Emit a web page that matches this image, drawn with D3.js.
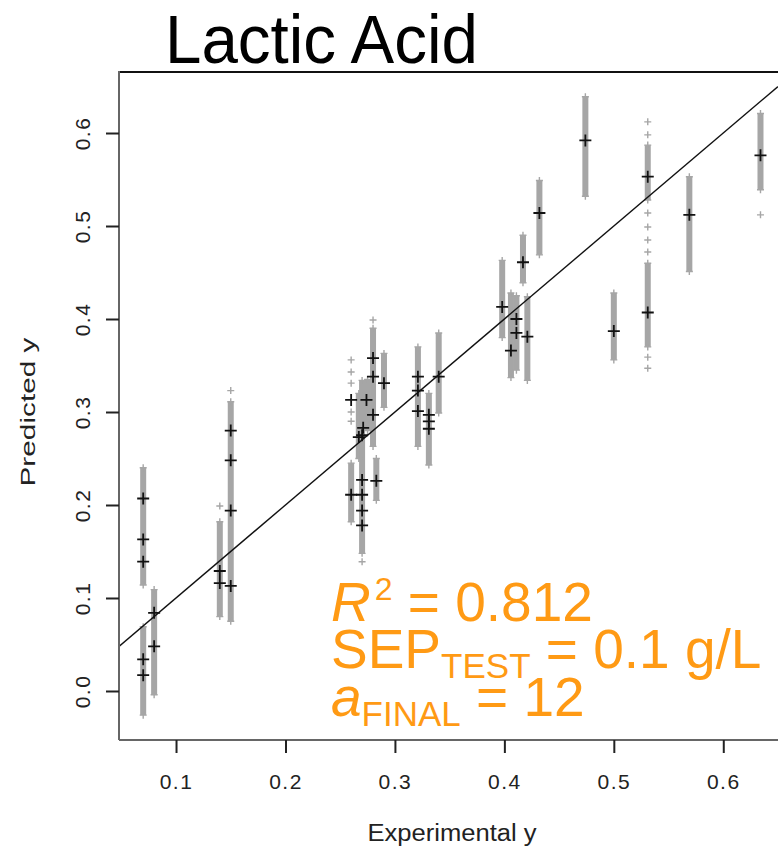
<!DOCTYPE html>
<html>
<head>
<meta charset="utf-8">
<script src="https://cdn.jsdelivr.net/npm/d3@7"></script>
<style>
  html, body { margin: 0; padding: 0; background: #fff; }
  svg { display: block; }
</style>
</head>
<body>
<svg id="chart" width="778" height="846"></svg>
<script>
// ---- data ----
const title = "Lactic Acid";
const xLabel = "Experimental y";
const yLabel = "Predicted y";
const xTicks = [0.1, 0.2, 0.3, 0.4, 0.5, 0.6];
const yTicks = [0.0, 0.1, 0.2, 0.3, 0.4, 0.5, 0.6];
const xDomain = [0.0479, 0.650];
const yDomain = [-0.0527, 0.6656];

// dense ranges of the gray (resampled) predictions: [experimental, low, high]
const grayRanges = [
  [0.070, 0.114, 0.240], [0.070, -0.026, 0.069],
  [0.080, -0.004, 0.109],
  [0.140, 0.080, 0.182],
  [0.150, 0.075, 0.311],
  [0.260, 0.182, 0.245],
  [0.267, 0.250, 0.320],
  [0.270, 0.148, 0.334],
  [0.275, 0.280, 0.335],
  [0.280, 0.263, 0.390],
  [0.283, 0.205, 0.250],
  [0.290, 0.305, 0.363],
  [0.321, 0.263, 0.370],
  [0.331, 0.243, 0.320],
  [0.340, 0.299, 0.385],
  [0.398, 0.380, 0.463],
  [0.406, 0.337, 0.428],
  [0.411, 0.345, 0.425],
  [0.417, 0.439, 0.490],
  [0.421, 0.334, 0.424],
  [0.432, 0.469, 0.549],
  [0.474, 0.532, 0.639],
  [0.500, 0.356, 0.428],
  [0.531, 0.528, 0.587], [0.531, 0.370, 0.460],
  [0.569, 0.451, 0.553],
  [0.634, 0.539, 0.621]
];

// isolated gray predictions: [experimental, predicted]
const grayPoints = [
  [0.140, 0.199], [0.150, 0.323], [0.270, 0.139],
  [0.260, 0.356], [0.260, 0.343], [0.260, 0.331], [0.260, 0.300], [0.260, 0.290],
  [0.280, 0.399],
  [0.531, 0.612], [0.531, 0.598], [0.531, 0.514], [0.531, 0.499], [0.531, 0.485],
  [0.531, 0.472], [0.531, 0.359], [0.531, 0.347],
  [0.634, 0.512]
];

// final-model predictions (black crosses): [experimental, predicted]
const blackPoints = [
  [0.070, 0.207], [0.070, 0.163], [0.070, 0.139], [0.070, 0.034], [0.070, 0.017],
  [0.080, 0.084], [0.080, 0.048],
  [0.140, 0.129], [0.140, 0.116],
  [0.150, 0.280], [0.150, 0.248], [0.150, 0.194], [0.150, 0.113],
  [0.260, 0.313], [0.260, 0.211],
  [0.267, 0.273], [0.271, 0.283], [0.270, 0.275],
  [0.270, 0.227], [0.270, 0.211], [0.270, 0.194], [0.270, 0.178],
  [0.274, 0.313],
  [0.280, 0.358], [0.280, 0.338], [0.280, 0.297],
  [0.283, 0.226],
  [0.290, 0.331],
  [0.321, 0.338], [0.321, 0.323], [0.321, 0.301],
  [0.331, 0.297], [0.331, 0.290], [0.331, 0.282],
  [0.340, 0.338],
  [0.398, 0.413],
  [0.406, 0.366],
  [0.411, 0.400], [0.411, 0.385],
  [0.417, 0.461],
  [0.421, 0.381],
  [0.432, 0.514],
  [0.474, 0.592],
  [0.500, 0.387],
  [0.531, 0.553], [0.531, 0.407],
  [0.569, 0.512],
  [0.634, 0.576]
];

// reference line y = slope * x + intercept
const lineSlope = 1.0;
const lineIntercept = 0.0;

const statLines = [
  { main: "R", mainItalic: true, sup: "2", sub: null, rest: " = 0.812" },
  { main: "SEP", mainItalic: false, sup: null, sub: "TEST", rest: " = 0.1 g/L" },
  { main: "a", mainItalic: true, sup: null, sub: "FINAL", rest: " = 12" }
];

// ---- drawing ----
const svg = d3.select("#chart");
const plot = { left: 119, right: 778, top: 72, bottom: 740 };
const x = d3.scaleLinear().domain(xDomain).range([plot.left, plot.right]);
const y = d3.scaleLinear().domain(yDomain).range([plot.bottom, plot.top]);
const font = "'Liberation Sans', Arial, Helvetica, sans-serif";

svg.append("defs").append("clipPath").attr("id", "clip")
  .append("rect").attr("x", plot.left).attr("y", plot.top)
  .attr("width", plot.right - plot.left).attr("height", plot.bottom - plot.top);

const g = svg.append("g").attr("clip-path", "url(#clip)");
const gray = "#a6a6a6";

// gray dense ranges
g.selectAll("rect.rng").data(grayRanges).join("rect")
  .attr("class", "rng")
  .attr("x", d => x(d[0]) - 3)
  .attr("width", 6)
  .attr("y", d => y(d[2]))
  .attr("height", d => y(d[1]) - y(d[2]))
  .attr("fill", gray);

// gray crosses at range ends and isolated ones
const grayCrossData = grayRanges.flatMap(d => [[d[0], d[1]], [d[0], d[2]]]).concat(grayPoints);
const cross = (sel, data, half, color, width) => {
  sel.selectAll(null).data(data).join("path")
    .attr("d", d => {
      const cx = x(d[0]), cy = y(d[1]);
      return `M${cx - half},${cy}H${cx + half}M${cx},${cy - half}V${cy + half}`;
    })
    .attr("stroke", color).attr("stroke-width", width).attr("fill", "none");
};
cross(g.append("g"), grayCrossData, 3.5, gray, 1.4);

// reference line
const lx0 = xDomain[0], lx1 = xDomain[1];
g.append("line")
  .attr("x1", x(lx0)).attr("y1", y(lineSlope * lx0 + lineIntercept))
  .attr("x2", x(lx1)).attr("y2", y(lineSlope * lx1 + lineIntercept))
  .attr("stroke", "#111").attr("stroke-width", 1.4);

// black crosses
cross(g.append("g"), blackPoints, 6, "#111", 1.8);

// frame: top border, left & bottom axis lines
svg.append("line").attr("x1", plot.left).attr("x2", plot.right)
  .attr("y1", plot.top).attr("y2", plot.top).attr("stroke", "#111").attr("stroke-width", 2);
svg.append("line").attr("x1", plot.left).attr("x2", plot.left)
  .attr("y1", plot.top - 1).attr("y2", plot.bottom).attr("stroke", "#666").attr("stroke-width", 2);
svg.append("line").attr("x1", plot.left).attr("x2", plot.right)
  .attr("y1", plot.bottom).attr("y2", plot.bottom).attr("stroke", "#666").attr("stroke-width", 2);

// axes via d3
const xAxis = d3.axisBottom(x).tickValues(xTicks).tickSize(13).tickPadding(21)
  .tickFormat(d3.format(".1f"));
const yAxis = d3.axisLeft(y).tickValues(yTicks).tickSize(13).tickPadding(18)
  .tickFormat(d3.format(".1f"));

const gx = svg.append("g").attr("transform", `translate(0,${plot.bottom})`).call(xAxis);
const gy = svg.append("g").attr("transform", `translate(${plot.left},0)`).call(yAxis);
[gx, gy].forEach(a => {
  a.select(".domain").remove();
  a.selectAll(".tick line").attr("stroke", "#222").attr("stroke-width", 2);
  a.selectAll(".tick text").attr("fill", "#222").attr("font-size", 21)
    .attr("letter-spacing", 1.5)
    .attr("font-family", font);
});
gy.selectAll(".tick text")
  .attr("transform", "rotate(-90)")
  .attr("x", 0).attr("y", -29)
  .attr("text-anchor", "middle").attr("dy", 0);

// title
svg.append("text").attr("x", 165).attr("y", 63)
  .attr("font-family", font).attr("font-size", 68).attr("fill", "#000")
  .attr("textLength", 313).attr("lengthAdjust", "spacingAndGlyphs")
  .text(title);

// axis titles
svg.append("text").attr("x", 452).attr("y", 841)
  .attr("text-anchor", "middle")
  .attr("font-family", font).attr("font-size", 23).attr("fill", "#222")
  .attr("textLength", 169).attr("lengthAdjust", "spacingAndGlyphs")
  .text(xLabel);
svg.append("text")
  .attr("transform", "translate(35,412) rotate(-90)")
  .attr("text-anchor", "middle")
  .attr("font-family", font).attr("font-size", 21).attr("fill", "#222")
  .attr("textLength", 149).attr("lengthAdjust", "spacingAndGlyphs")
  .text(yLabel);

// statistics annotation
const orange = "#ff9a14";
const baselines = [621, 668, 716];
statLines.forEach((s, i) => {
  const t = svg.append("text").attr("x", 331).attr("y", baselines[i])
    .attr("font-family", font).attr("fill", orange).attr("font-size", 55);
  t.append("tspan").attr("font-style", s.mainItalic ? "italic" : "normal").text(s.main);
  let shift = 0;
  if (s.sup) { t.append("tspan").attr("font-size", 32).attr("dy", -21).attr("dx", 4).text(s.sup); shift = 21; }
  if (s.sub) { t.append("tspan").attr("font-size", 35).attr("dy", 10).text(s.sub); shift = -10; }
  t.append("tspan").attr("dy", shift).text(s.rest);
});
</script>
</body>
</html>
